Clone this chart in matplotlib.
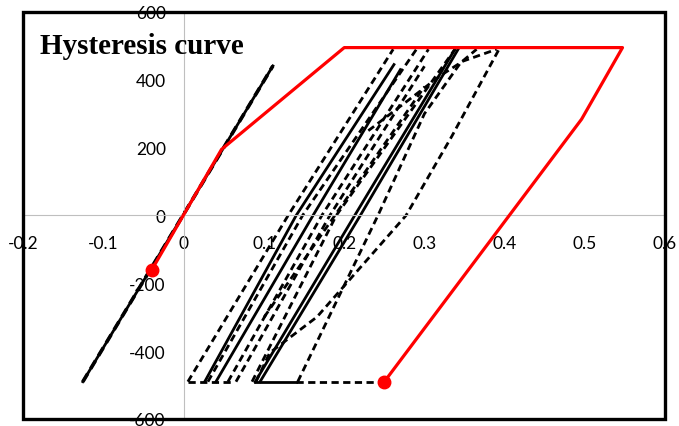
import matplotlib.pyplot as plt
from matplotlib.patches import Rectangle

plt.rcParams['axes.unicode_minus'] = False
plt.rcParams['font.family'] = ['Lato', 'DejaVu Sans']

# red envelope (skeleton curve), markers at both ends
env_x = [-0.04, 0.047, 0.2, 0.547, 0.496, 0.25]
env_y = [-160, 195, 495, 495, 284, -490]

# initial elastic branch
elas_x = [-0.126, 0.111]
elas_y = [-490, 441]

# dashed branches of the cycles
dash_branches = [
    ([0.005, 0.130, 0.261], [-490, 0, 490]),
    ([0.030, 0.148, 0.290], [-490, 0, 490]),
    ([0.055, 0.172, 0.305], [-490, 0, 490]),
    ([0.065, 0.182, 0.300], [-490, 0, 440]),
    ([0.085, 0.190, 0.338], [-490, 0, 490]),
    ([0.142, 0.242, 0.300, 0.345, 0.365], [-490, 0, 300, 450, 490]),
    ([0.090, 0.107, 0.166, 0.277, 0.334, 0.393], [-490, -405, -299, 0, 233, 490]),
    ([0.230, 0.280, 0.319, 0.348, 0.390], [250, 340, 411, 455, 490]),
    ([0.100, 0.200, 0.300], [-300, 40, 380]),
    ([0.005, 0.060], [-490, -490]),
    ([0.140, 0.250], [-490, -490]),
]

# solid branches of the cycles
solid_branches = [
    ([0.026, 0.140, 0.262], [-490, 0, 445]),
    ([0.040, 0.161, 0.270], [-490, 0, 430]),
    ([0.089, 0.213, 0.338], [-490, 0, 490]),
    ([0.095, 0.220, 0.342], [-490, 0, 490]),
    ([0.089, 0.140], [-490, -490]),
]

xticks = [-0.2, -0.1, 0, 0.1, 0.2, 0.3, 0.4, 0.5, 0.6]
xlabels = ['-0.2', '-0.1', '0', '0.1', '0.2', '0.3', '0.4', '0.5', '0.6']
yticks = [-600, -400, -200, 0, 200, 400, 600]

fig = plt.figure(figsize=(6.79, 4.27), dpi=100)
ax = fig.add_axes([0.0346, 0.0164, 0.9448, 0.9532])
ax.set_xlim(-0.2, 0.6)
ax.set_ylim(-600, 600)

dash = (0, (2.6, 1.6))
ax.plot(elas_x, elas_y, color='black', lw=2.0)
ax.plot(elas_x, elas_y, color='black', lw=2.6, linestyle=dash)
for bx, by in solid_branches:
    ax.plot(bx, by, color='black', lw=2.0)
for bx, by in dash_branches:
    ax.plot(bx, by, color='black', lw=2.0, linestyle=dash)

ax.plot(env_x, env_y, color='red', lw=2.3, zorder=4)
ax.plot([env_x[0], env_x[-1]], [env_y[0], env_y[-1]], 'o', color='red', ms=9, zorder=5)

# axes crossing at origin, Excel style
for s in ['top', 'right']:
    ax.spines[s].set_visible(False)
ax.spines['left'].set_position('zero')
ax.spines['bottom'].set_position('zero')
ax.spines['left'].set_color('#bfbfbf')
ax.spines['bottom'].set_color('#bfbfbf')
ax.set_axisbelow(True)

ax.set_xticks(xticks)
ax.set_xticklabels(xlabels)
ax.set_yticks(yticks)
ax.tick_params(length=0, labelsize=12.5, colors='#000000')
ax.tick_params(axis='y', pad=13)
ax.tick_params(axis='x', pad=14)

ax.add_patch(Rectangle((0, 0), 1, 1, transform=ax.transAxes, fill=False,
                       ec='black', lw=2.4, clip_on=False, zorder=6))

fig.text(40 / 679, 1 - 54 / 427, 'Hysteresis curve', family='Liberation Serif',
         weight='bold', fontsize=21, va='baseline', ha='left')

fig.savefig('out.png', dpi=100)
